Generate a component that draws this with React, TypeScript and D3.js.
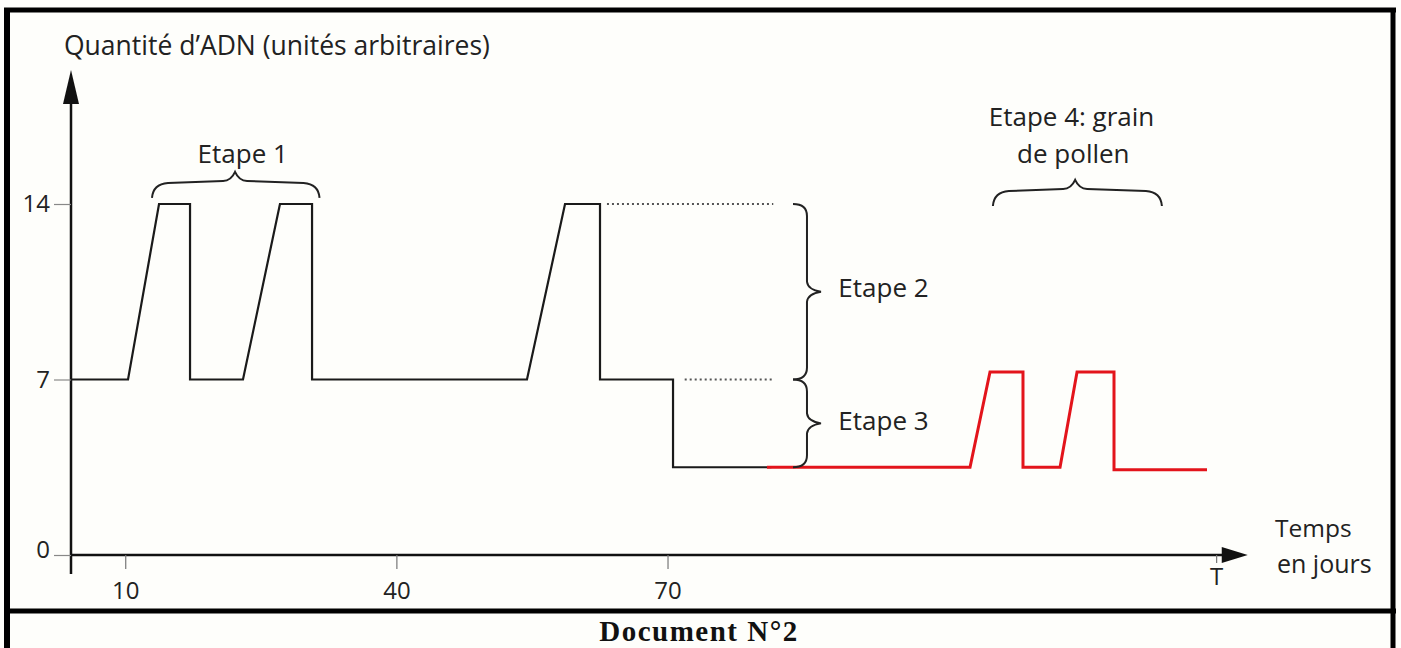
import { scaleLinear, axisBottom, axisLeft, select, line, curveLinear } from 'd3'
import { useEffect, useRef } from "react";

// black curve: days, DNA quantity
const blackDays = [4, 10.31, 13.74, 17.17, 17.17, 23.03, 27.12, 30.67, 30.67, 54.45, 58.66, 62.53, 62.53, 70.61, 70.61, 81.5]
const blackDna = [7, 7, 14, 14, 7, 7, 14, 14, 7, 7, 14, 14, 7, 7, 3.5, 3.5]

// red curve (pollen grain)
const redDays = [81.0, 103.47, 105.68, 109.33, 109.33, 113.43, 115.31, 119.4, 119.4, 129.69]
const redDna = [3.5, 3.5, 7.3, 7.3, 3.5, 3.5, 7.3, 7.3, 3.4, 3.4]

const yTicks = [0, 7, 14]
const xTicks = [10, 40, 70, 130.7]
const xTickLabels = ["10", "40", "70", "T"]

// dotted guides: [from day, to day, level]
const guides = [
  [63.3, 81.7, 14],
  [71.9, 81.7, 7],
]

// horizontal braces: from, to, tip day, level
const hBraces = [
  { from: 12.96, to: 31.5, tip: 22.15, level: 14.84 },
  { from: 106.0, to: 124.7, tip: 115.1, level: 14.52 },
]
// vertical braces: day, from level, to level
const vBraces = [
  { day: 85.43, top: 14, bottom: 7 },
  { day: 85.43, top: 7, bottom: 3.5 },
]

const labels = [
  { text: "Etape 1", day: 23.0, level: 15.64, anchor: "middle" },
  { text: "Etape 2", day: 88.9, level: 10.3, anchor: "start" },
  { text: "Etape 3", day: 88.9, level: 4.98, anchor: "start" },
  { text: "Etape 4: grain", day: 114.7, level: 17.1, anchor: "middle" },
  { text: "de pollen", day: 114.9, level: 15.62, anchor: "middle" },
]

const FONT = "'Open Sans', 'DejaVu Sans', sans-serif"

const App = () => {
  const width = 1401
  const height = 648

  const xScale = scaleLinear().domain([4, 135]).range([71, 1255])
  const yScale = scaleLinear().domain([0, 14]).range([555, 204])

  const xAxisRef = useRef<SVGGElement>(null)
  const yAxisRef = useRef<SVGGElement>(null)

  const lineGenerator = line<[number, number]>()
    .x(d => xScale(d[0]))
    .y(d => yScale(d[1]))
    .curve(curveLinear)

  const blackPts = blackDays.map((d, i) => [d, blackDna[i]] as [number, number])
  const redPts = redDays.map((d, i) => [d, redDna[i]] as [number, number])

  useEffect(() => {
    if (xAxisRef.current) {
      const xAxis = axisBottom(xScale)
        .tickValues(xTicks)
        .tickSize(14)
        .tickPadding(13)
        .tickFormat((_d, i) => xTickLabels[i])
      const g = select(xAxisRef.current).call(xAxis)
      g.select(".domain").remove()
      g.selectAll(".tick line").attr("stroke", "#777").attr("stroke-width", 1.2)
      g.selectAll(".tick text")
        .attr("font-family", FONT)
        .attr("font-size", 24)
        .attr("fill", "#222")
      // T sits closer to the axis
      g.selectAll(".tick").filter((_d, i) => i === 3).select("line").attr("y2", 8)
      g.selectAll(".tick").filter((_d, i) => i === 3).select("text").attr("y", 13)
    }

    if (yAxisRef.current) {
      const yAxis = axisLeft(yScale).tickValues(yTicks).tickSize(17).tickPadding(4)
      const g = select(yAxisRef.current).call(yAxis)
      g.select(".domain").remove()
      g.selectAll(".tick line").attr("stroke", "#888").attr("stroke-width", 1.2)
      g.selectAll(".tick text")
        .attr("font-family", FONT)
        .attr("font-size", 24)
        .attr("fill", "#222")
      g.selectAll(".tick").filter((_d, i) => i === 0).select("text").attr("dy", "0.1em")
    }
  }, [])

  const hBracePath = (b: typeof hBraces[0]) => {
    const x1 = xScale(b.from), x2 = xScale(b.to), xm = xScale(b.tip), y = yScale(b.level)
    return `M${x1},${y + 15} Q${x1 + 1},${y + 1} ${x1 + 16},${y} L${xm - 12},${y - 2} Q${xm - 4},${y - 2} ${xm},${y - 11} Q${xm + 4},${y - 2} ${xm + 12},${y - 2} L${x2 - 16},${y} Q${x2 - 1},${y + 1} ${x2},${y + 15}`
  }
  const vBracePath = (b: typeof vBraces[0]) => {
    const x = xScale(b.day), y1 = yScale(b.top), y2 = yScale(b.bottom), ym = (y1 + y2) / 2
    return `M${x - 14},${y1} Q${x},${y1} ${x},${y1 + 12} L${x},${ym - 10} Q${x + 1},${ym - 2} ${x + 14},${ym} Q${x + 1},${ym + 2} ${x},${ym + 10} L${x},${y2 - 12} Q${x},${y2} ${x - 14},${y2}`
  }

  const y0 = yScale(0)
  const xAxisEnd = xScale(134.2)

  return (
    <svg height={height} width={width} style={{ position: "absolute", left: 0, top: 0, display: "block" }}>
      <rect x={0} y={0} width={width} height={height} fill="#fefefb" />

      {/* frame */}
      <g stroke="#000" fill="none">
        <line x1={7} y1={9} x2={7} y2={648} strokeWidth={6} />
        <line x1={4} y1={10} x2={1396} y2={10} strokeWidth={5} />
        <line x1={1393} y1={8} x2={1393} y2={648} strokeWidth={5} />
        <line x1={4} y1={611} x2={1396} y2={611} strokeWidth={5} />
      </g>

      <text x={64} y={55} fontFamily={FONT} fontSize={26.5} fill="#222">Quantité d’ADN (unités arbitraires)</text>

      {/* axes */}
      <line x1={xScale(4)} y1={574} x2={xScale(4)} y2={98} stroke="#111" strokeWidth={2.5} />
      <path d={`M${xScale(4) - 8},${104} L${xScale(4)},${70} L${xScale(4) + 8},${104} Z`} fill="#111" />
      <line x1={xScale(4)} y1={y0} x2={xAxisEnd - 20} y2={y0} stroke="#111" strokeWidth={2.5} />
      <path d={`M${xAxisEnd - 26},${y0 - 8} L${xAxisEnd},${y0} L${xAxisEnd - 26},${y0 + 8} Z`} fill="#111" />

      <g ref={xAxisRef} transform={`translate(0, ${y0})`} />
      <g ref={yAxisRef} transform={`translate(${xScale(4)}, 0)`} />

      <text x={1275} y={537} fontFamily={FONT} fontSize={24.5} fill="#222">Temps</text>
      <text x={1277} y={573} fontFamily={FONT} fontSize={25} fill="#222">en jours</text>

      {/* dotted guides */}
      {guides.map((g, i) => (
        <line key={i} x1={xScale(g[0])} x2={xScale(g[1])} y1={yScale(g[2])} y2={yScale(g[2])}
          stroke="#555" strokeWidth={2} strokeDasharray="2 3" />
      ))}

      {/* curves */}
      <path d={lineGenerator(blackPts) || ""} fill="none" stroke="#1a1a1a" strokeWidth={2.2} strokeLinejoin="miter" />
      <path d={lineGenerator(redPts) || ""} fill="none" stroke="#e3141b" strokeWidth={3} />

      {/* braces */}
      {hBraces.map((b, i) => (
        <path key={i} d={hBracePath(b)} fill="none" stroke="#222" strokeWidth={2} />
      ))}
      {vBraces.map((b, i) => (
        <path key={i} d={vBracePath(b)} fill="none" stroke="#222" strokeWidth={2} />
      ))}

      {labels.map((l, i) => (
        <text key={i} x={xScale(l.day)} y={yScale(l.level)} textAnchor={l.anchor as any}
          fontFamily={FONT} fontSize={26} fill="#222">{l.text}</text>
      ))}

      <text x={699} y={641} textAnchor="middle" fontFamily="'Liberation Serif', 'Times New Roman', serif"
        fontWeight="bold" fontSize={29} letterSpacing={1.5} fill="#111">Document N°2</text>
    </svg>
  );
};

export default App;
